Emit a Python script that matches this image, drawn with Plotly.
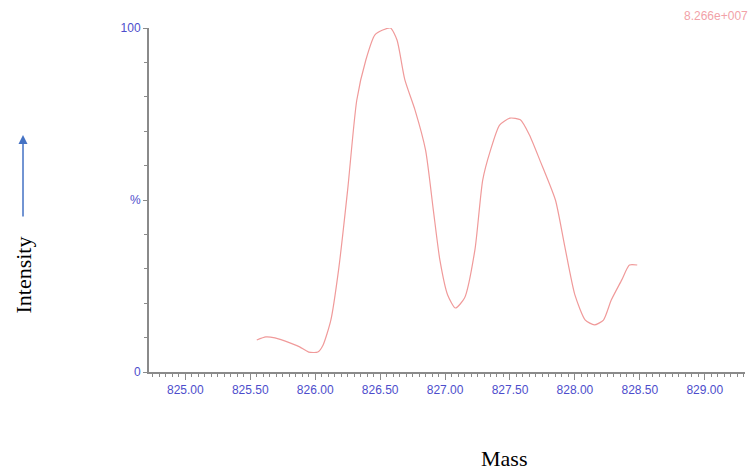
import plotly.graph_objects as go

mass = [825.55, 825.62, 825.69, 825.81, 825.88, 825.95, 826.02, 826.06, 826.12, 826.18,
        826.25, 826.32, 826.39, 826.46, 826.52, 826.58, 826.63, 826.69, 826.77, 826.85,
        826.91, 826.96, 827.02, 827.08, 827.15, 827.23, 827.29, 827.35, 827.42, 827.50,
        827.58, 827.65, 827.73, 827.85, 827.92, 828.00, 828.08, 828.15, 828.22, 828.28,
        828.36, 828.42, 828.48]
intensity = [9.3, 10.2, 9.9, 8.4, 7.3, 5.8, 5.8, 7.8, 15.0, 29.7,
             53.0, 79.0, 90.7, 98.0, 99.4, 100.0, 96.5, 85.0, 76.0, 64.5,
             47.0, 32.6, 22.4, 18.6, 21.5, 35.5, 55.8, 64.5, 71.8, 73.8,
             73.3, 68.9, 61.6, 50.0, 36.9, 22.4, 15.1, 13.7, 15.1, 20.9,
             26.7, 31.1, 31.1]

x_ticks = [825.0, 825.5, 826.0, 826.5, 827.0, 827.5, 828.0, 828.5, 829.0]
x_tick_labels = ["825.00", "825.50", "826.00", "826.50", "827.00", "827.50", "828.00", "828.50", "829.00"]
y_ticks = [0, 50, 100]
y_tick_labels = ["0", "%", "100"]

tick_color = "#4d4dcc"
axis_color = "#8a8a8a"

fig = go.Figure()
fig.add_trace(go.Scatter(x=mass, y=intensity, mode="lines",
                         line=dict(color="#f09a9a", width=1.2, shape="spline", smoothing=0.6),
                         hoverinfo="skip", showlegend=False))

fig.update_layout(
    width=750, height=470,
    margin=dict(l=149, r=5, t=28, b=98),
    paper_bgcolor="white", plot_bgcolor="white",
    xaxis=dict(range=[824.72, 829.31], tickvals=x_ticks, ticktext=x_tick_labels,
               showgrid=False, zeroline=False, showline=True, linecolor=axis_color, linewidth=2,
               ticks="outside", ticklen=6, tickwidth=1, tickcolor=axis_color,
               tickfont=dict(family="Liberation Sans, Arial", size=12, color=tick_color),
               minor=dict(dtick=0.05, tick0=825, ticks="outside", ticklen=3, tickcolor=axis_color, tickwidth=1)),
    yaxis=dict(range=[0, 100], tickvals=y_ticks, ticktext=y_tick_labels,
               showgrid=False, zeroline=False, showline=True, linecolor=axis_color, linewidth=2,
               ticks="outside", ticklen=4, tickwidth=1, tickcolor=axis_color,
               tickfont=dict(family="Liberation Sans, Arial", size=12, color=tick_color),
               minor=dict(dtick=10, tick0=0, ticks="outside", ticklen=3, tickcolor=axis_color, tickwidth=1)),
    annotations=[
        dict(text="8.266e+007", xref="paper", yref="paper", x=1.008, y=1.035,
             xanchor="right", yanchor="middle", showarrow=False,
             font=dict(family="Liberation Sans, Arial", size=12, color="#f2a2a8")),
        dict(text="Intensity", xref="paper", yref="paper", x=-0.2105, y=0.282,
             textangle=-90, showarrow=False, xanchor="center", yanchor="middle",
             font=dict(family="Liberation Serif, Times New Roman", size=22, color="black")),
        dict(text="Mass", xref="paper", yref="paper", x=0.596, y=-0.25,
             showarrow=False, xanchor="center", yanchor="middle",
             font=dict(family="Liberation Serif, Times New Roman", size=22, color="black")),
        dict(text="", xref="paper", yref="paper", x=-0.2114, y=0.689,
             showarrow=True, ax=0, ay=83, arrowhead=2, arrowsize=1.2, arrowwidth=1.5,
             arrowcolor="#4472c4"),
    ],
)

fig.write_html("out.html")
